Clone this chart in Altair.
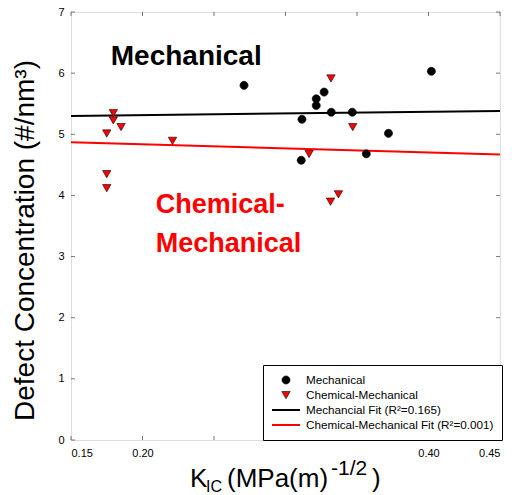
import altair as alt
import pandas as pd

# ---------------- data ----------------
series_names = ["Mechanical", "Chemical-Mechanical",
                "Mechancial Fit (R²=0.165)", "Chemical-Mechanical Fit (R²=0.001)"]

mech_kic = [0.271, 0.327, 0.3215, 0.3215, 0.332, 0.3467, 0.3115, 0.372, 0.3565, 0.311, 0.402]
mech_conc = [5.80, 5.69, 5.58, 5.47, 5.36, 5.36, 5.245, 5.015, 4.68, 4.575, 6.03]

chem_kic = [0.3318, 0.347, 0.3165, 0.337, 0.3315, 0.1796, 0.1796, 0.185, 0.175, 0.221, 0.175, 0.175]
chem_conc = [5.915, 5.12, 4.68, 4.02, 3.90, 5.35, 5.23, 5.12, 5.015, 4.895, 4.35, 4.12]

fit_kic = [0.15, 0.45]
mech_fit = [5.30, 5.38]
chem_fit = [4.87, 4.67]

x_ticks = [0.15, 0.20, 0.25, 0.30, 0.35, 0.40, 0.45]
y_ticks = [0, 1, 2, 3, 4, 5, 6, 7]

ann_text = ["Mechanical", "Chemical-", "Mechanical"]
ann_kic = [0.1778, 0.2093, 0.2093]
ann_conc = [6.13, 3.72, 3.08]

# ---------------- tables ----------------
points = pd.DataFrame({
    "series": [series_names[0]] * len(mech_kic) + [series_names[1]] * len(chem_kic),
    "kic": mech_kic + chem_kic,
    "conc": mech_conc + chem_conc,
})
fits = pd.DataFrame({
    "series": [series_names[2]] * 2 + [series_names[3]] * 2,
    "kic": fit_kic + fit_kic,
    "conc": mech_fit + chem_fit,
})
xt = pd.DataFrame({"kic": x_ticks})
yt = pd.DataFrame({"conc": y_ticks})

W, H = 429, 428
FONT = "Liberation Sans"
FRAME = "#404040"
SYM = 784  # symbol size: legend line entries are sqrt(784) = 28 px long

# small marker shapes defined relative to the (large) symbol size
CIRCLE = "M-0.29,0A0.29,0.29 0 1,0 0.29,0A0.29,0.29 0 1,0 -0.29,0Z"
TRI_DOWN = "M-0.3,-0.25L0.3,-0.25L0,0.27Z"

x_scale = alt.Scale(domain=[0.15, 0.45], nice=False, zero=False)
y_scale = alt.Scale(domain=[0, 7], nice=False)

x_axis = alt.Axis(values=x_ticks, format=".2f", title=None, grid=False, domain=False,
                  ticks=False, labelPadding=7, labelFont=FONT, labelFontSize=11,
                  labelColor="black",
                  labelExpr="(datum.value < 0.22 || datum.value > 0.38) ? format(datum.value, '.2f') : ''")
y_axis = alt.Axis(values=y_ticks, title="Defect Concentration (#/nm³)", grid=False,
                  domain=False, ticks=False, labelPadding=7, labelFont=FONT,
                  labelFontSize=11, labelColor="black",
                  titleFont=FONT, titleFontSize=28, titleFontWeight="normal",
                  titleColor="black", titleX=-38, titleY=228, titleAngle=270,
                  titleAlign="center", titleBaseline="alphabetic")

X = alt.X("kic:Q", scale=x_scale, axis=x_axis)
Y = alt.Y("conc:Q", scale=y_scale, axis=y_axis)

dom = series_names
legend = alt.Legend(title=None, orient="none", legendX=192, legendY=353,
                    fillColor="white", strokeColor="black", padding=8,
                    labelFont=FONT, labelFontSize=11.7, labelColor="black",
                    labelLimit=300, labelOffset=5, rowPadding=1, clipHeight=14,
                    symbolOpacity=1, symbolSize=SYM)

fill_scale = alt.Scale(domain=dom, range=["black", "#ff0000", "black", "#ff0000"])
stroke_scale = alt.Scale(domain=dom, range=["black", "black", "black", "#ff0000"])
shape_scale = alt.Scale(domain=dom, range=[CIRCLE, TRI_DOWN, "stroke", "stroke"])
sw_scale = alt.Scale(type="ordinal", domain=dom, range=[0.6, 0.6, 2, 2])

lines = alt.Chart(fits).mark_line().encode(
    x=X, y=Y,
    stroke=alt.Stroke("series:N", scale=stroke_scale, legend=legend),
    strokeWidth=alt.StrokeWidth("series:N", scale=sw_scale, legend=legend),
)

pts = alt.Chart(points).mark_point(opacity=1, size=SYM).encode(
    x=X, y=Y,
    fill=alt.Fill("series:N", scale=fill_scale, legend=legend),
    stroke=alt.Stroke("series:N", scale=stroke_scale, legend=legend),
    shape=alt.Shape("series:N", scale=shape_scale, legend=legend),
    strokeWidth=alt.StrokeWidth("series:N", scale=sw_scale, legend=legend),
)

tick_style = dict(color=FRAME, thickness=1, size=4)
bottom_ticks = alt.Chart(xt).mark_tick(orient="vertical", **tick_style).encode(
    x=X, y=alt.value(H - 2))
top_ticks = alt.Chart(xt).mark_tick(orient="vertical", **tick_style).encode(
    x=X, y=alt.value(2))
left_ticks = alt.Chart(yt).mark_tick(orient="horizontal", **tick_style).encode(
    y=Y, x=alt.value(2))
right_ticks = alt.Chart(yt).mark_tick(orient="horizontal", **tick_style).encode(
    y=Y, x=alt.value(W - 2))

ann = pd.DataFrame({"text": ann_text, "kic": ann_kic, "conc": ann_conc})
ann_black = alt.Chart(ann.iloc[[0]]).mark_text(
    font=FONT, fontSize=28, fontWeight="bold", color="black",
    align="left", baseline="alphabetic").encode(x=X, y=Y, text="text:N")
ann_red = alt.Chart(ann.iloc[[1, 2]]).mark_text(
    font=FONT, fontSize=27, fontWeight="bold", color="#ff0000",
    align="left", baseline="alphabetic").encode(x=X, y=Y, text="text:N")

# x axis title made of pieces (K_IC (MPa(m)^-1/2))
title_parts = [("K", 119, 474.7, 26), ("IC", 135, 480, 16),
               ("(MPa(m)", 156, 474.7, 26), ("-1/2", 260, 463, 21),
               (")", 301, 474.7, 26)]
title_layers = []
for txt, px, py, fs in title_parts:
    title_layers.append(
        alt.Chart(pd.DataFrame({"t": [txt]})).mark_text(
            font=FONT, fontSize=fs, color="black", align="left",
            baseline="alphabetic").encode(
            text="t:N", x=alt.value(px), y=alt.value(py)))

chart = alt.layer(
    lines, bottom_ticks, top_ticks, left_ticks, right_ticks, pts, ann_black, ann_red,
    *title_layers
).properties(
    width=W, height=H,
    autosize=alt.AutoSizeParams(type="none"),
    padding={"left": 71, "top": 12, "right": 12, "bottom": 55},
).configure_view(
    stroke=FRAME, strokeWidth=1
).configure(background="white")

chart.save("out.html", embed_options={"renderer": "svg", "actions": False})
